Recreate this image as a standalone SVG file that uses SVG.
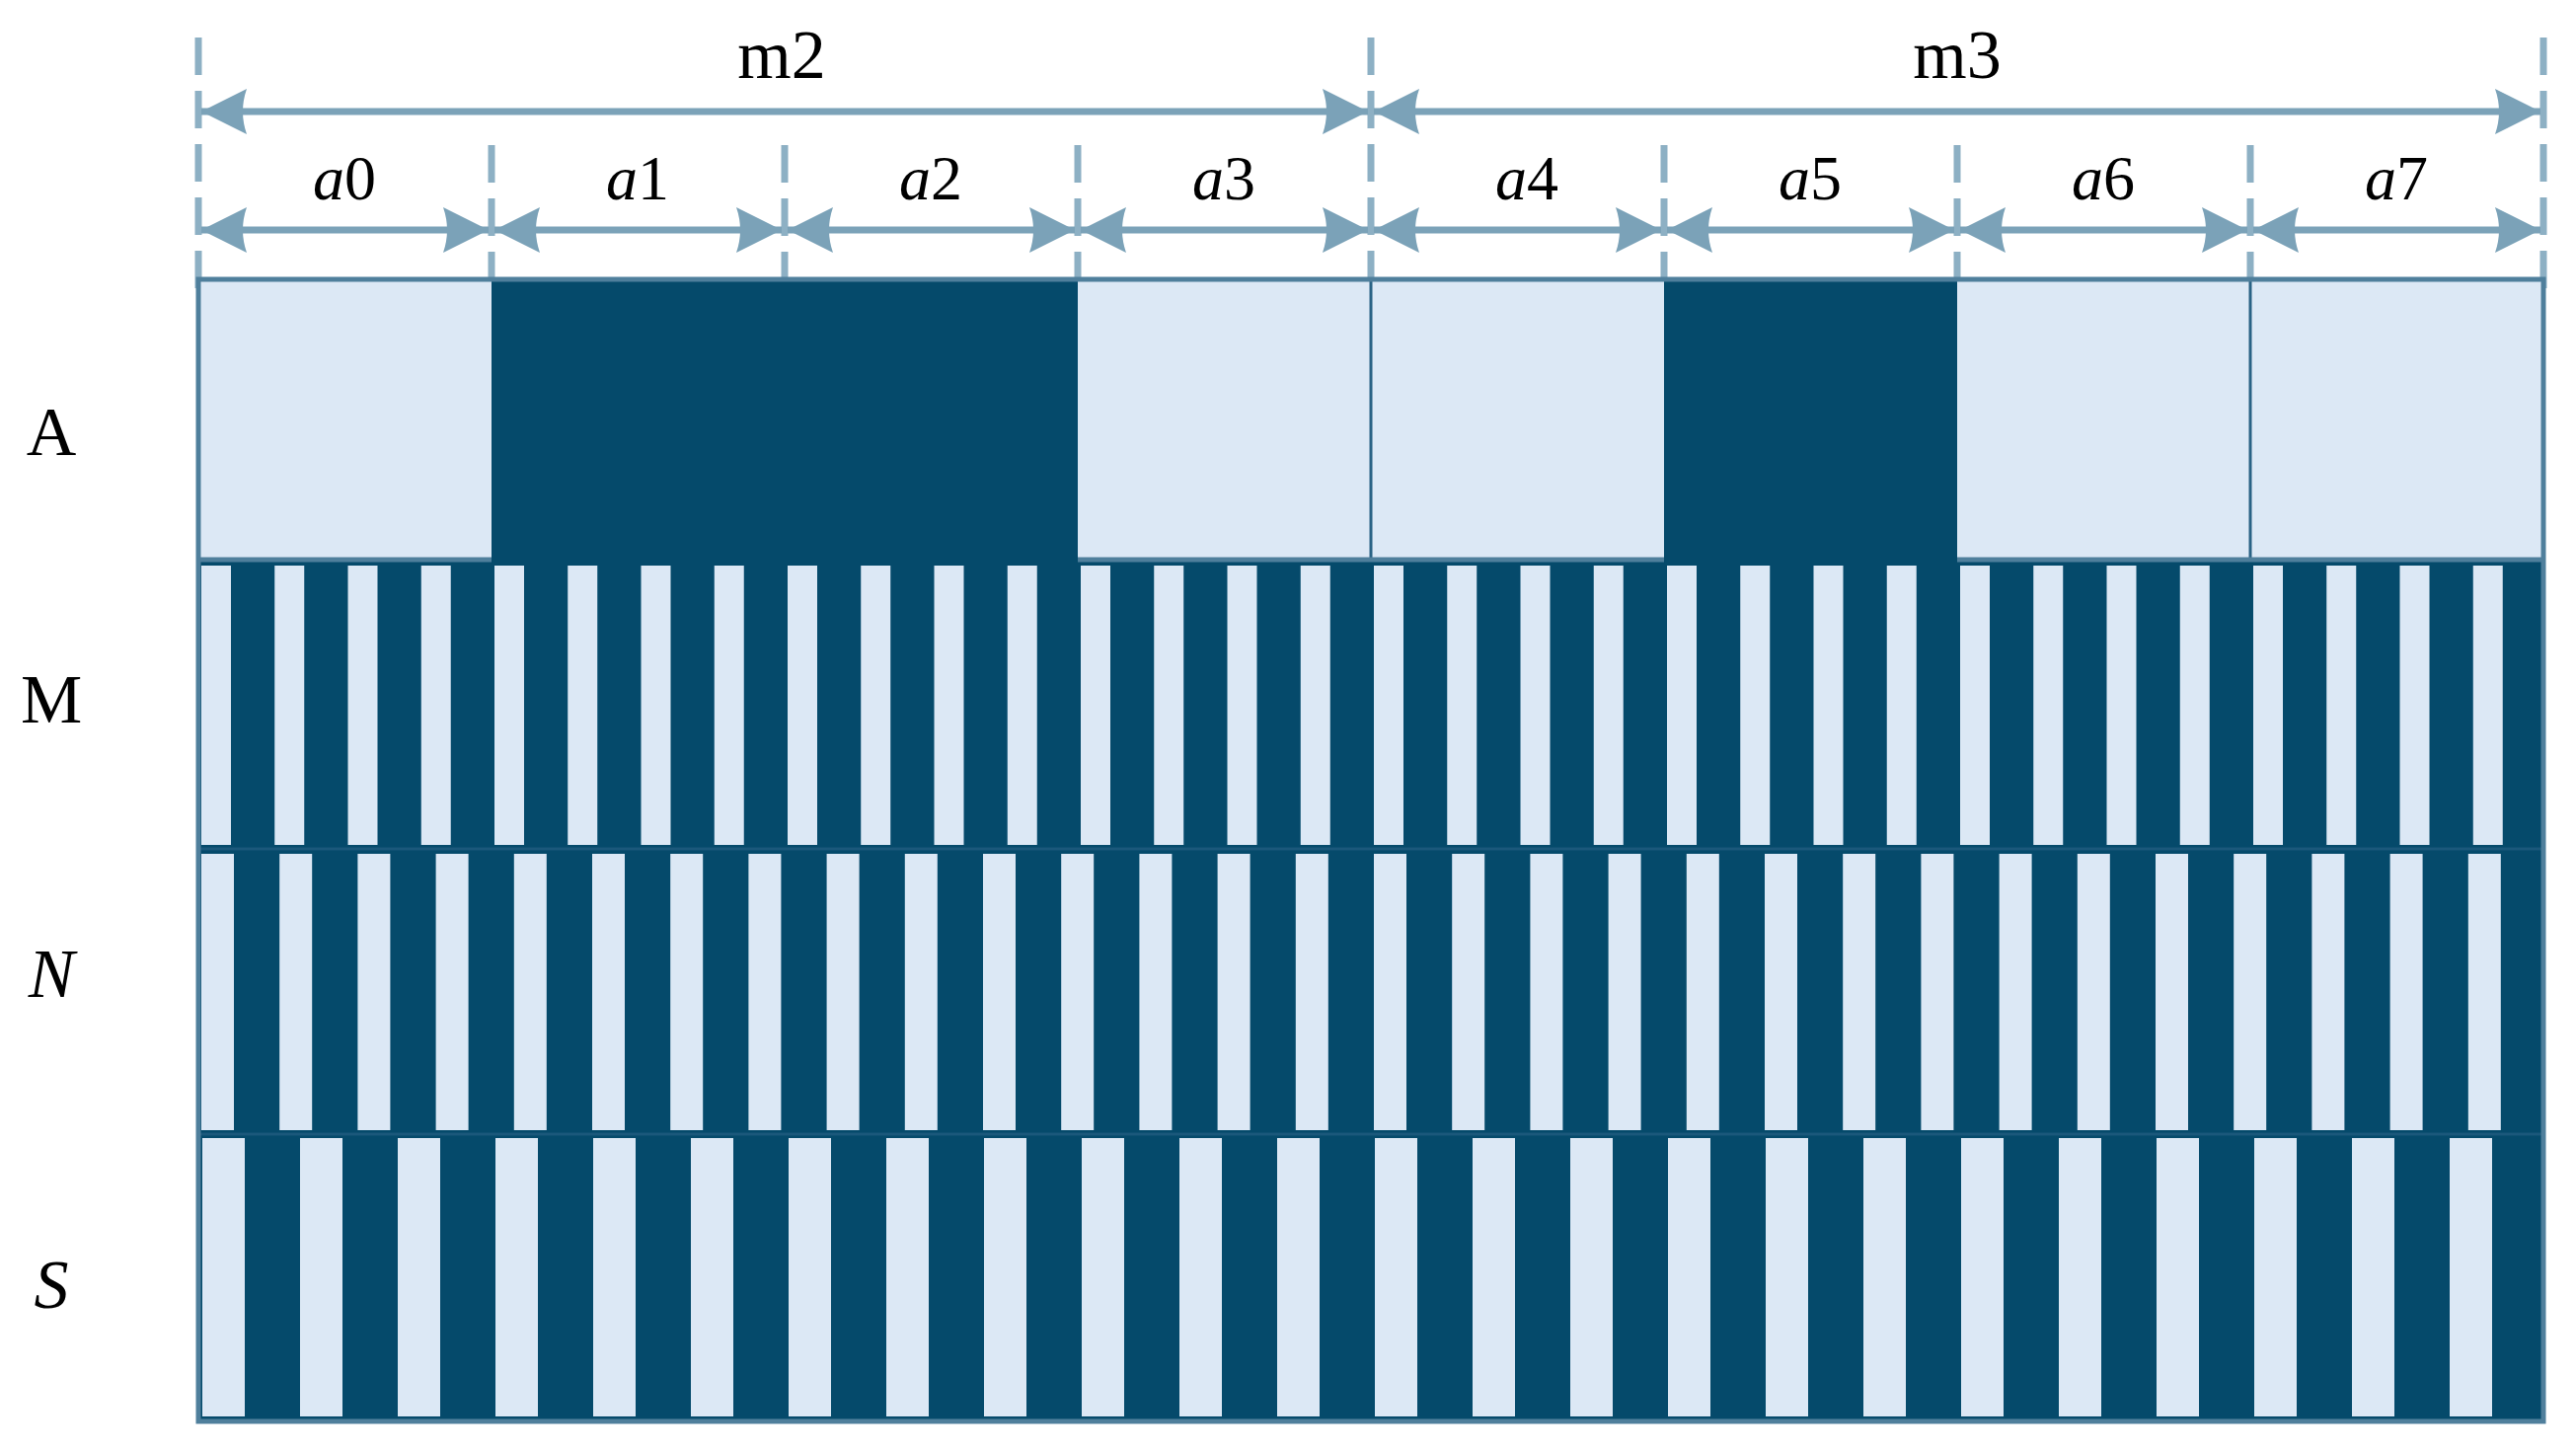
<svg xmlns="http://www.w3.org/2000/svg" width="2610" height="1468" viewBox="0 0 2610 1468">
<style>
.lbl{font-family:"Liberation Serif","Times New Roman",serif;fill:#000;}
.it{font-style:italic;}
.dk{fill:#054a6b;}
.lt{fill:#dce8f5;}
.dash{stroke:#8db0c4;stroke-width:7;stroke-dasharray:38 16;fill:none;}
.arr{stroke:#7ba2b8;stroke-width:7;fill:none;marker-start:url(#ah);marker-end:url(#ah);}
.frame{stroke:#4f7f9c;stroke-width:5;fill:none;}
.sep{stroke:#2a6385;stroke-width:3;fill:none;}
</style>
<defs>
<marker id="ah" viewBox="0 0 46 46" refX="46" refY="23" markerWidth="46" markerHeight="46" markerUnits="userSpaceOnUse" orient="auto-start-reverse">
<path d="M46,23 L0,0 Q8,23 0,46 Z" fill="#7ba2b8"/>
</marker>
</defs>
<rect width="2610" height="1468" fill="#fff"/>

<g id="dimension-lines">
<line class="dash" x1="201" y1="38" x2="201" y2="292"/>
<line class="dash" x1="498" y1="147" x2="498" y2="292"/>
<line class="dash" x1="795" y1="147" x2="795" y2="292"/>
<line class="dash" x1="1092" y1="147" x2="1092" y2="292"/>
<line class="dash" x1="1389" y1="38" x2="1389" y2="292"/>
<line class="dash" x1="1686" y1="147" x2="1686" y2="292"/>
<line class="dash" x1="1983" y1="147" x2="1983" y2="292"/>
<line class="dash" x1="2280" y1="147" x2="2280" y2="292"/>
<line class="dash" x1="2577" y1="38" x2="2577" y2="292"/>
</g>

<g id="connectors">
<line class="arr" x1="204" y1="113" x2="1386" y2="113"/>
<line class="arr" x1="1392" y1="113" x2="2574" y2="113"/>
<line class="arr" x1="204" y1="233" x2="495" y2="233"/>
<line class="arr" x1="501" y1="233" x2="792" y2="233"/>
<line class="arr" x1="798" y1="233" x2="1089" y2="233"/>
<line class="arr" x1="1095" y1="233" x2="1386" y2="233"/>
<line class="arr" x1="1392" y1="233" x2="1683" y2="233"/>
<line class="arr" x1="1689" y1="233" x2="1980" y2="233"/>
<line class="arr" x1="1986" y1="233" x2="2277" y2="233"/>
<line class="arr" x1="2283" y1="233" x2="2574" y2="233"/>
</g>

<g id="span-labels">
<text class="lbl" x="792" y="79" font-size="70" text-anchor="middle">m2</text>
<text class="lbl" x="1983" y="79" font-size="70" text-anchor="middle">m3</text>
<text class="lbl" x="349" y="202" font-size="64" text-anchor="middle"><tspan class="it">a</tspan>0</text>
<text class="lbl" x="646" y="202" font-size="64" text-anchor="middle"><tspan class="it">a</tspan>1</text>
<text class="lbl" x="943" y="202" font-size="64" text-anchor="middle"><tspan class="it">a</tspan>2</text>
<text class="lbl" x="1240" y="202" font-size="64" text-anchor="middle"><tspan class="it">a</tspan>3</text>
<text class="lbl" x="1547" y="202" font-size="64" text-anchor="middle"><tspan class="it">a</tspan>4</text>
<text class="lbl" x="1834" y="202" font-size="64" text-anchor="middle"><tspan class="it">a</tspan>5</text>
<text class="lbl" x="2131" y="202" font-size="64" text-anchor="middle"><tspan class="it">a</tspan>6</text>
<text class="lbl" x="2428" y="202" font-size="64" text-anchor="middle"><tspan class="it">a</tspan>7</text>
</g>

<g id="row-labels">
<text class="lbl" x="52" y="461" font-size="70" text-anchor="middle">A</text>
<text class="lbl" x="52" y="732" font-size="70" text-anchor="middle">M</text>
<text class="lbl it" x="52" y="1010" font-size="70" text-anchor="middle">N</text>
<text class="lbl it" x="52" y="1325" font-size="70" text-anchor="middle">S</text>
</g>

<g id="grid-background">
<rect class="dk" x="201" y="283" width="2376" height="1157"/>
</g>

<g id="row-A">
<rect class="lt" x="201" y="283" width="297" height="284"/>
<rect class="lt" x="1092" y="283" width="594" height="284"/>
<rect class="lt" x="1983" y="283" width="594" height="284"/>
<line class="sep" x1="1389" y1="283" x2="1389" y2="567"/>
<line class="sep" x1="2280" y1="283" x2="2280" y2="567"/>
<path class="frame" d="M201,567 H498 M1092,567 H1686 M1983,567 H2577"/>
</g>

<g id="row-M">
<rect class="lt" x="204" y="573" width="30" height="283"/><rect class="lt" x="278.25" y="573" width="30" height="283"/><rect class="lt" x="352.5" y="573" width="30" height="283"/><rect class="lt" x="426.75" y="573" width="30" height="283"/>
<rect class="lt" x="501" y="573" width="30" height="283"/><rect class="lt" x="575.25" y="573" width="30" height="283"/><rect class="lt" x="649.5" y="573" width="30" height="283"/><rect class="lt" x="723.75" y="573" width="30" height="283"/>
<rect class="lt" x="798" y="573" width="30" height="283"/><rect class="lt" x="872.25" y="573" width="30" height="283"/><rect class="lt" x="946.5" y="573" width="30" height="283"/><rect class="lt" x="1020.75" y="573" width="30" height="283"/>
<rect class="lt" x="1095" y="573" width="30" height="283"/><rect class="lt" x="1169.25" y="573" width="30" height="283"/><rect class="lt" x="1243.5" y="573" width="30" height="283"/><rect class="lt" x="1317.75" y="573" width="30" height="283"/>
<rect class="lt" x="1392" y="573" width="30" height="283"/><rect class="lt" x="1466.25" y="573" width="30" height="283"/><rect class="lt" x="1540.5" y="573" width="30" height="283"/><rect class="lt" x="1614.75" y="573" width="30" height="283"/>
<rect class="lt" x="1689" y="573" width="30" height="283"/><rect class="lt" x="1763.25" y="573" width="30" height="283"/><rect class="lt" x="1837.5" y="573" width="30" height="283"/><rect class="lt" x="1911.75" y="573" width="30" height="283"/>
<rect class="lt" x="1986" y="573" width="30" height="283"/><rect class="lt" x="2060.25" y="573" width="30" height="283"/><rect class="lt" x="2134.5" y="573" width="30" height="283"/><rect class="lt" x="2208.75" y="573" width="30" height="283"/>
<rect class="lt" x="2283" y="573" width="30" height="283"/><rect class="lt" x="2357.25" y="573" width="30" height="283"/><rect class="lt" x="2431.5" y="573" width="30" height="283"/><rect class="lt" x="2505.75" y="573" width="30" height="283"/>
</g>

<g id="row-N">
<rect class="lt" x="204" y="865" width="33" height="280"/><rect class="lt" x="283.2" y="865" width="33" height="280"/><rect class="lt" x="362.4" y="865" width="33" height="280"/><rect class="lt" x="441.6" y="865" width="33" height="280"/><rect class="lt" x="520.8" y="865" width="33" height="280"/>
<rect class="lt" x="600" y="865" width="33" height="280"/><rect class="lt" x="679.2" y="865" width="33" height="280"/><rect class="lt" x="758.4" y="865" width="33" height="280"/><rect class="lt" x="837.6" y="865" width="33" height="280"/><rect class="lt" x="916.8" y="865" width="33" height="280"/>
<rect class="lt" x="996" y="865" width="33" height="280"/><rect class="lt" x="1075.2" y="865" width="33" height="280"/><rect class="lt" x="1154.4" y="865" width="33" height="280"/><rect class="lt" x="1233.6" y="865" width="33" height="280"/><rect class="lt" x="1312.8" y="865" width="33" height="280"/>
<rect class="lt" x="1392" y="865" width="33" height="280"/><rect class="lt" x="1471.2" y="865" width="33" height="280"/><rect class="lt" x="1550.4" y="865" width="33" height="280"/><rect class="lt" x="1629.6" y="865" width="33" height="280"/><rect class="lt" x="1708.8" y="865" width="33" height="280"/>
<rect class="lt" x="1788" y="865" width="33" height="280"/><rect class="lt" x="1867.2" y="865" width="33" height="280"/><rect class="lt" x="1946.4" y="865" width="33" height="280"/><rect class="lt" x="2025.6" y="865" width="33" height="280"/><rect class="lt" x="2104.8" y="865" width="33" height="280"/>
<rect class="lt" x="2184" y="865" width="33" height="280"/><rect class="lt" x="2263.2" y="865" width="33" height="280"/><rect class="lt" x="2342.4" y="865" width="33" height="280"/><rect class="lt" x="2421.6" y="865" width="33" height="280"/><rect class="lt" x="2500.8" y="865" width="33" height="280"/>
</g>

<g id="row-S">
<rect class="lt" x="205" y="1153" width="43" height="282"/><rect class="lt" x="304" y="1153" width="43" height="282"/><rect class="lt" x="403" y="1153" width="43" height="282"/><rect class="lt" x="502" y="1153" width="43" height="282"/>
<rect class="lt" x="601" y="1153" width="43" height="282"/><rect class="lt" x="700" y="1153" width="43" height="282"/><rect class="lt" x="799" y="1153" width="43" height="282"/><rect class="lt" x="898" y="1153" width="43" height="282"/>
<rect class="lt" x="997" y="1153" width="43" height="282"/><rect class="lt" x="1096" y="1153" width="43" height="282"/><rect class="lt" x="1195" y="1153" width="43" height="282"/><rect class="lt" x="1294" y="1153" width="43" height="282"/>
<rect class="lt" x="1393" y="1153" width="43" height="282"/><rect class="lt" x="1492" y="1153" width="43" height="282"/><rect class="lt" x="1591" y="1153" width="43" height="282"/><rect class="lt" x="1690" y="1153" width="43" height="282"/>
<rect class="lt" x="1789" y="1153" width="43" height="282"/><rect class="lt" x="1888" y="1153" width="43" height="282"/><rect class="lt" x="1987" y="1153" width="43" height="282"/><rect class="lt" x="2086" y="1153" width="43" height="282"/>
<rect class="lt" x="2185" y="1153" width="43" height="282"/><rect class="lt" x="2284" y="1153" width="43" height="282"/><rect class="lt" x="2383" y="1153" width="43" height="282"/><rect class="lt" x="2482" y="1153" width="43" height="282"/>
</g>

<g id="row-separators">
<line class="sep" x1="201" y1="860" x2="2577" y2="860" stroke-opacity="0.6"/>
<line class="sep" x1="201" y1="1149" x2="2577" y2="1149" stroke-opacity="0.6"/>
</g>

<g id="frame">
<rect class="frame" x="201" y="283" width="2376" height="1157"/>
</g>
</svg>
